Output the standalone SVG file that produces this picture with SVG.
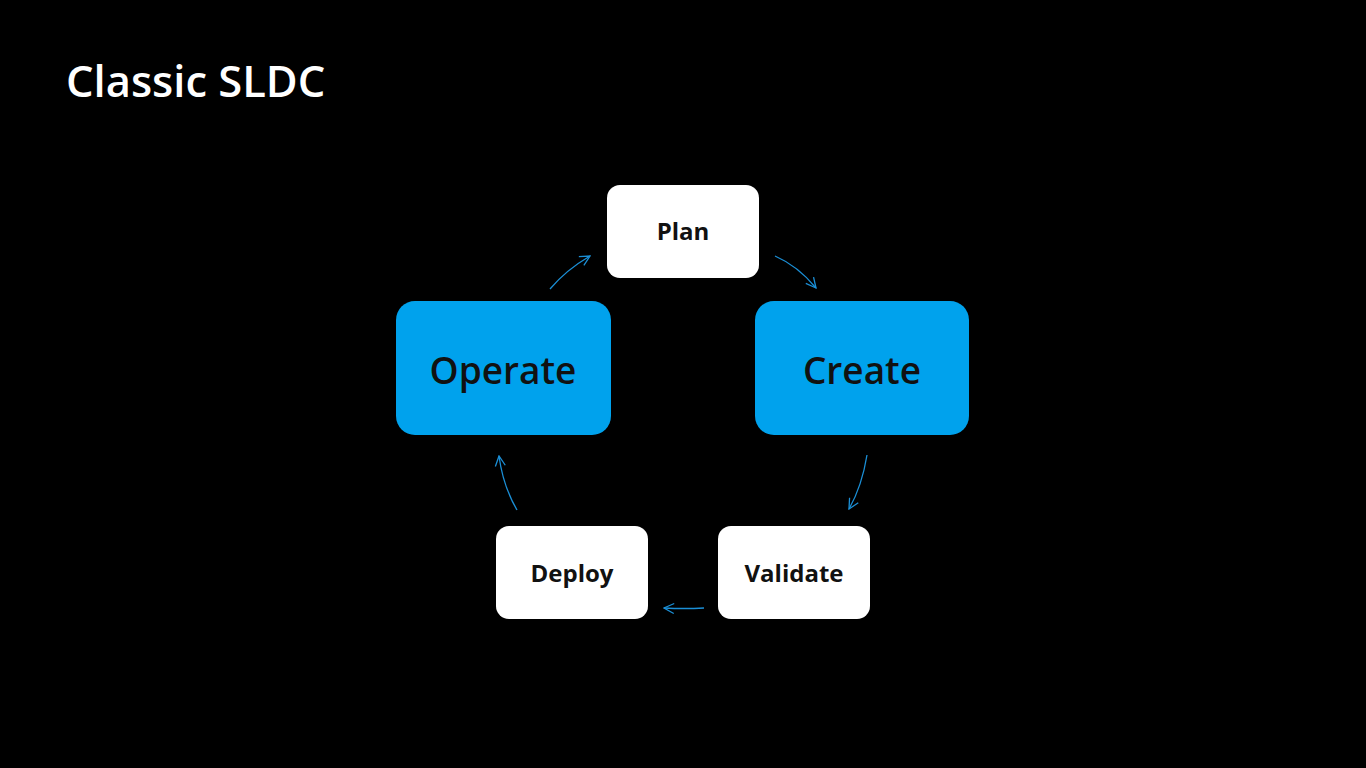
<svg xmlns="http://www.w3.org/2000/svg" width="1366" height="768" viewBox="0 0 1366 768">
<defs>
<style>
.bg{fill:#000}
.w{fill:#fff}
.b{fill:#00a2ed}
.t{font-family:"Open Sans","Noto Sans",sans-serif;font-weight:700;font-size:24px;fill:#111;text-anchor:middle}
.tb{font-family:"Open Sans","Noto Sans",sans-serif;font-weight:600;font-size:37px;fill:#111;text-anchor:middle}
.title{font-family:"Open Sans","Noto Sans",sans-serif;font-weight:600;font-size:43.5px;fill:#fff}
.c{fill:none;stroke:#1b8fd6;stroke-width:1.3}
</style>
<marker id="ah" viewBox="0 0 12 12" refX="11" refY="6" markerWidth="12" markerHeight="12" markerUnits="userSpaceOnUse" orient="auto">
<path d="M1,1 L11,6 L1,11" fill="none" stroke="#1b8fd6" stroke-width="1.3"/>
</marker>
</defs>
<rect class="bg" x="0" y="0" width="1366" height="768"/>
<text class="title" x="66" y="97">Classic SLDC</text>
<g id="plan"><rect class="w" x="607" y="185" width="152" height="93" rx="13"/><text class="t" x="683" y="240">Plan</text></g>
<g id="operate"><rect class="b" x="396" y="301" width="215" height="134" rx="19"/><text class="tb" x="503" y="384">Operate</text></g>
<g id="create"><rect class="b" x="755" y="301" width="214" height="134" rx="19"/><text class="tb" x="862" y="384">Create</text></g>
<g id="deploy"><rect class="w" x="496" y="526" width="152" height="93" rx="13"/><text class="t" x="572" y="582">Deploy</text></g>
<g id="validate"><rect class="w" x="718" y="526" width="152" height="93" rx="13"/><text class="t" x="794" y="582">Validate</text></g>
<g id="connectors">
<path class="c" d="M550,289 Q566,270 590,256" marker-end="url(#ah)"/>
<path class="c" d="M775,256 Q798,266 816,288" marker-end="url(#ah)"/>
<path class="c" d="M867,455 Q862,486 849,509" marker-end="url(#ah)"/>
<path class="c" d="M704,608 Q684,609 664,608" marker-end="url(#ah)"/>
<path class="c" d="M517,510 Q503,486 499,456" marker-end="url(#ah)"/>
</g>
</svg>
